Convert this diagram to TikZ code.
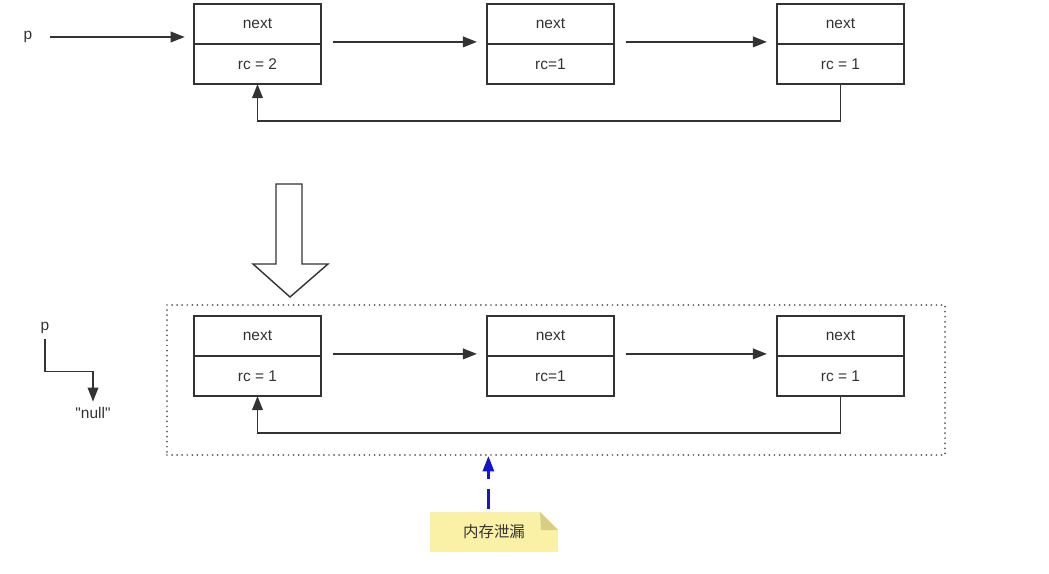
\documentclass[tikz,border=0pt]{standalone}
\usepackage{fontspec}
\setmainfont{Liberation Sans}
\newfontfamily\plainsans{Liberation Sans}
\newfontfamily\cjk{Noto Sans CJK SC}
\usetikzlibrary{arrows.meta,positioning,calc,fit}
\definecolor{notefill}{HTML}{FBF1A6}
\definecolor{notefold}{HTML}{D6CE88}
\definecolor{leakblue}{HTML}{1414D2}
\definecolor{ink}{HTML}{333333}

\begin{document}
\begin{tikzpicture}[x=0.025cm, y=-0.025cm,
  cell/.style={draw=ink, line width=1.3pt, outer sep=0pt, inner sep=0pt,
    minimum width=3.175cm, minimum height=1cm,
    font=\fontsize{11}{13}\selectfont, text=ink},
  lbl/.style={font=\fontsize{11}{13}\selectfont, text=ink, inner sep=1pt},
  ptr/.style={-{Triangle[length=10pt,width=7.5pt]}, line width=1.3pt, draw=ink}]
\useasboundingbox (0,0) rectangle (1049,573);

% --- before: p points at the first node ---
\foreach \i/\x/\rc in {1/257.5/rc = 2, 2/550.5/rc=1, 3/840.5/rc = 1} {
  \node[cell] (tn\i) at (\x,24) {next};
  \node[cell, below=0pt of tn\i] (tr\i) {\rc};
}
\node[lbl] (pa) at (28,37) {p};
\draw[ptr, shorten <=4mm, shorten >=2.3mm] (pa) -- (pa -| tn1.west);
\draw[ptr, shorten <=3mm, shorten >=2.5mm] ([yshift=1.5pt]tn1.south east) -- ([yshift=1.5pt]tn2.south west);
\draw[ptr, shorten <=3mm, shorten >=2.5mm] ([yshift=1.5pt]tn2.south east) -- ([yshift=1.5pt]tn3.south west);
\draw[ptr] (tr3.south) -- ++(0,37) -| (tr1.south);

% big hollow arrow
\draw[draw=ink, line width=1pt, fill=white]
  (276,184) -- (302,184) -- (302,264) -- (328,264) -- (290,297) -- (253,264) -- (276,264) -- cycle;

% --- after: p = null, cycle stays ---
\foreach \i/\x/\rc in {1/257.5/rc = 1, 2/550.5/rc=1, 3/840.5/rc = 1} {
  \node[cell] (bn\i) at (\x,336) {next};
  \node[cell, below=0pt of bn\i] (br\i) {\rc};
}
\draw[ptr, shorten <=3mm, shorten >=2.5mm] ([yshift=1.5pt]bn1.south east) -- ([yshift=1.5pt]bn2.south west);
\draw[ptr, shorten <=3mm, shorten >=2.5mm] ([yshift=1.5pt]bn2.south east) -- ([yshift=1.5pt]bn3.south west);
\draw[ptr] (br3.south) -- ++(0,37) -| (br1.south);

\node[draw=ink!80, line width=1.4pt, line cap=round, dash pattern=on 0pt off 3.6pt,
  inner sep=0pt, fit={(167,305) (945,455)}] (frame) {};

\node[lbl] (pb) at (45,328) {p};
\node[lbl, font=\plainsans\fontsize{11}{13}\selectfont] (null) at (93,413) {"null"};
\draw[ptr, shorten <=1mm, shorten >=1mm] (pb.south) -- ++(0,36) -| (null.north);

% memory leak note
\node[fill=notefill, minimum width=3.2cm, minimum height=1cm, inner sep=0pt,
  font=\cjk\fontsize{11}{13}\selectfont, text=ink] (note) at (494,532) {内存泄漏};
\fill[white] (540,511) -- (559,511) -- (559,530) -- cycle;
\fill[notefold] (540,512) -- (558,530) -- (541,530) -- cycle;
\draw[-{Triangle[length=11pt,width=8pt]}, leakblue, line width=1.8pt,
  dash pattern=on 5mm off 2.5mm] ([xshift=-4pt,yshift=2pt]note.north) -- ([xshift=-4pt]note.north |- frame.south);
\end{tikzpicture}
\end{document}
